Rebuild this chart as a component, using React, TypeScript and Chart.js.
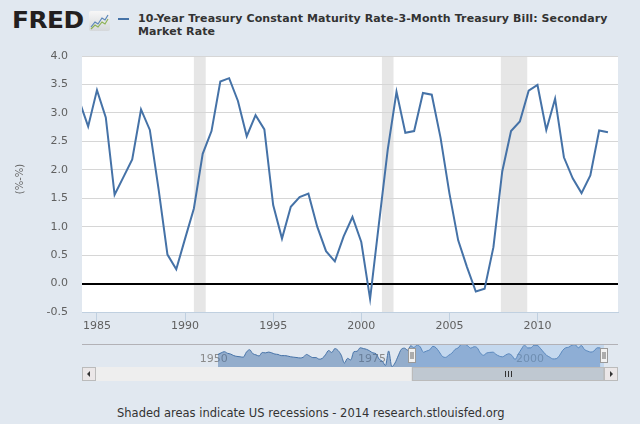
import React, { useEffect, useRef } from "react";
import { Chart, registerables } from "chart.js";

Chart.register(...registerables);

// ---- data (semi-annual observations) ----
const periods = [
  1984.0, 1984.5, 1985.0, 1985.5, 1986.0, 1986.5, 1987.0, 1987.5, 1988.0, 1988.5,
  1989.0, 1989.5, 1990.0, 1990.5, 1991.0, 1991.5, 1992.0, 1992.5, 1993.0, 1993.5,
  1994.0, 1994.5, 1995.0, 1995.5, 1996.0, 1996.5, 1997.0, 1997.5, 1998.0, 1998.5,
  1999.0, 1999.5, 2000.0, 2000.5, 2001.0, 2001.5, 2002.0, 2002.5, 2003.0, 2003.5,
  2004.0, 2004.5, 2005.0, 2005.5, 2006.0, 2006.5, 2007.0, 2007.5, 2008.0, 2008.5,
  2009.0, 2009.5, 2010.0, 2010.5, 2011.0, 2011.5, 2012.0, 2012.5, 2013.0, 2013.5,
  2014.0,
];
const spread = [
  3.21, 2.76, 3.40, 2.92, 1.56, 1.87, 2.18, 3.06, 2.70, 1.65,
  0.51, 0.25, 0.79, 1.32, 2.28, 2.68, 3.55, 3.61, 3.21, 2.59,
  2.96, 2.71, 1.38, 0.79, 1.35, 1.52, 1.58, 1.00, 0.57, 0.39,
  0.83, 1.17, 0.73, -0.27, 1.05, 2.35, 3.37, 2.65, 2.68, 3.35,
  3.32, 2.56, 1.59, 0.76, 0.29, -0.14, -0.09, 0.64, 1.97, 2.68,
  2.85, 3.39, 3.49, 2.70, 3.25, 2.22, 1.85, 1.59, 1.90, 2.69,
  2.66,
];

// navigator history before the main window
const navHistoryPeriods = [
  1953.5, 1954.0, 1954.5, 1955.0, 1955.5, 1956.0, 1956.5, 1957.0, 1957.5, 1958.0,
  1958.5, 1959.0, 1959.5, 1960.0, 1960.5, 1961.0, 1961.5, 1962.0, 1962.5, 1963.0,
  1963.5, 1964.0, 1964.5, 1965.0, 1965.5, 1966.0, 1966.5, 1967.0, 1967.5, 1968.0,
  1968.5, 1969.0, 1969.5, 1970.0, 1970.5, 1971.0, 1971.5, 1972.0, 1972.5, 1973.0,
  1973.5, 1974.0, 1974.5, 1975.0, 1975.5, 1976.0, 1976.5, 1977.0, 1977.5, 1978.0,
  1978.5, 1979.0, 1979.5, 1980.0, 1980.5, 1981.0, 1981.5, 1982.0, 1982.5, 1983.0,
  1983.5,
];
const navHistorySpread = [
  1.0, 1.4, 1.7, 1.3, 1.1, 0.7, 0.5, 0.4, 0.3, 1.6,
  2.2, 1.2, 0.9, 0.6, 1.5, 1.4, 1.6, 1.4, 1.1, 1.0,
  0.7, 0.7, 0.6, 0.4, 0.3, 0.2, 0.1, 0.3, 1.0, 0.6,
  0.2, 0.2, -0.2, 0.0, 0.9, 2.0, 1.5, 2.5, 2.0, 0.8,
  -1.2, 0.0, -0.4, 1.7, 1.8, 2.7, 2.5, 2.3, 1.9, 1.4,
  1.2, -0.2, -0.7, -1.8, 1.9, -2.1, -1.2, 0.6, 2.3, 2.6,
  2.1,
];

const recessionStarts = [1990.5, 2001.17, 2007.92];
const recessionEnds = [1991.17, 2001.83, 2009.42];
const xTickYears = [1985, 1990, 1995, 2000, 2005, 2010];
const yTickValues = [-0.5, 0, 0.5, 1, 1.5, 2, 2.5, 3, 3.5, 4];
const navTickYears = [1950, 1975, 2000];
const viewStart = 1984.15;
const viewEnd = 2014.57;
const navStart = 1934.2;

const titleLine1 = "10-Year Treasury Constant Maturity Rate-3-Month Treasury Bill: Secondary";
const titleLine2 = "Market Rate";
const yAxisTitle = "(%-%)";
const footerText = "Shaded areas indicate US recessions - 2014 research.stlouisfed.org";

const FONT = "'DejaVu Sans', Verdana, sans-serif";
const LINE = "#4572A7";
const BG = "#E1E8F0";

export default function App() {
  const mainRef = useRef<HTMLCanvasElement>(null);
  const navRef = useRef<HTMLCanvasElement>(null);

  useEffect(() => {
    const bands = {
      id: "bands",
      beforeDraw(chart: any) {
        const { ctx, chartArea: a, scales } = chart;
        const x = scales.x;
        ctx.save();
        ctx.fillStyle = "#FFFFFF";
        ctx.fillRect(a.left, a.top, a.right - a.left, a.bottom - a.top);
        ctx.fillStyle = "#E6E6E6";
        recessionStarts.forEach((s, i) => {
          const x0 = x.getPixelForValue(s);
          const x1 = x.getPixelForValue(recessionEnds[i]);
          ctx.fillRect(x0, a.top, x1 - x0, a.bottom - a.top);
        });
        ctx.restore();
      },
      afterDraw(chart: any) {
        const ctx = chart.ctx;
        ctx.save();
        ctx.translate(20, 179);
        ctx.rotate(-Math.PI / 2);
        ctx.font = `10px ${FONT}`;
        ctx.fillStyle = "#666666";
        ctx.textAlign = "center";
        ctx.textBaseline = "middle";
        ctx.fillText(yAxisTitle, 0, 0);
        ctx.restore();
      },
    };

    const main = new Chart(mainRef.current!, {
      type: "line",
      data: {
        datasets: [
          {
            data: periods.map((p, i) => ({ x: p, y: spread[i] })),
            borderColor: LINE,
            borderWidth: 2,
            pointRadius: 0,
            tension: 0,
            fill: false,
          },
        ],
      },
      options: {
        animation: false,
        responsive: false,
        maintainAspectRatio: false,
        layout: { padding: { left: 0, right: 22, top: 56, bottom: 0 } },
        plugins: { legend: { display: false }, tooltip: { enabled: false } },
        scales: {
          x: {
            type: "linear",
            min: viewStart,
            max: viewEnd,
            afterBuildTicks: (s: any) => {
              s.ticks = xTickYears.map((v) => ({ value: v }));
            },
            afterFit: (s: any) => {
              s.height = 28;
            },
            grid: { drawOnChartArea: false, drawTicks: true, tickLength: 10, tickColor: "#C0D0E0" },
            border: { color: "#C0D0E0", width: 1 },
            ticks: {
              color: "#606060",
              font: { family: FONT, size: 11 },
              padding: -2,
              maxRotation: 0,
              autoSkip: false,
              callback: (v: any) => String(v),
            },
          },
          y: {
            min: -0.5,
            max: 4.0,
            afterBuildTicks: (s: any) => {
              s.ticks = yTickValues.map((v) => ({ value: v }));
            },
            afterFit: (s: any) => {
              s.width = 82;
            },
            grid: {
              drawTicks: false,
              color: (c: any) =>
                c.tick && c.tick.value === 0 ? "#000000" : c.tick && c.tick.value === -0.5 ? "rgba(0,0,0,0)" : "#D6D6D6",
              lineWidth: (c: any) => (c.tick && c.tick.value === 0 ? 2 : 1),
            },
            border: { display: false },
            ticks: {
              color: "#606060",
              font: { family: FONT, size: 11 },
              padding: 14,
              autoSkip: false,
              callback: (v: any) => Number(v).toFixed(1),
            },
          },
        },
      },
      plugins: [bands],
    } as any);

    const navPeriods = navHistoryPeriods.concat(periods);
    const navValues = navHistorySpread.concat(spread);
    const navMin = Math.min(...navValues) - 0.1;
    const navMax = Math.max(...navValues) + 0.05;

    const navDecor = {
      id: "navDecor",
      beforeDatasetsDraw(chart: any) {
        const { ctx, chartArea: a, scales } = chart;
        const x = scales.x;
        ctx.save();
        ctx.font = `11px ${FONT}`;
        ctx.fillStyle = "#8A8A8A";
        ctx.textAlign = "left";
        ctx.textBaseline = "middle";
        navTickYears.forEach((yr) => {
          ctx.fillText(String(yr), x.getPixelForValue(yr) + 4, a.top + 15.5);
        });
        ctx.restore();
      },
      afterDraw(chart: any) {
        const { ctx, chartArea: a, scales } = chart;
        const x = scales.x;
        const left = 82;
        const right = 618;
        const s0 = x.getPixelForValue(viewStart);
        const s1 = x.getPixelForValue(viewEnd);
        ctx.save();
        // selection mask
        ctx.fillStyle = "rgba(128,179,236,0.3)";
        ctx.fillRect(s0, a.top, s1 - s0, a.bottom - a.top);
        // outline
        ctx.strokeStyle = "#B2B1B6";
        ctx.lineWidth = 1;
        ctx.beginPath();
        ctx.moveTo(left, Math.round(a.top) + 0.5);
        ctx.lineTo(right, Math.round(a.top) + 0.5);
        ctx.stroke();
        // scrollbar
        const sy = Math.round(a.bottom);
        const sh = 14;
        ctx.fillStyle = "#EEEEEE";
        ctx.fillRect(left, sy, right - left, sh);
        ctx.strokeStyle = "#EEEEEE";
        ctx.strokeRect(left + 0.5, sy + 0.5, right - left - 1, sh - 1);
        // thumb
        ctx.fillStyle = "#BFC8D1";
        ctx.fillRect(s0, sy, s1 - s0, sh);
        ctx.strokeStyle = "#BBBBBB";
        ctx.strokeRect(Math.round(s0) + 0.5, sy + 0.5, s1 - s0 - 1, sh - 1);
        const gc = Math.round((s0 + s1) / 2);
        ctx.strokeStyle = "#333333";
        [-3, 0, 3].forEach((d) => {
          ctx.beginPath();
          ctx.moveTo(gc + d + 0.5, sy + 4);
          ctx.lineTo(gc + d + 0.5, sy + 10);
          ctx.stroke();
        });
        // buttons
        [left, right - 14].forEach((bx, i) => {
          ctx.fillStyle = "#EBE7E8";
          ctx.fillRect(bx, sy, 14, sh);
          ctx.strokeStyle = "#BBBBBB";
          ctx.strokeRect(bx + 0.5, sy + 0.5, 13, sh - 1);
          ctx.fillStyle = "#333333";
          ctx.beginPath();
          const cx = bx + 7;
          const cy = sy + 7;
          if (i === 0) {
            ctx.moveTo(cx - 2, cy);
            ctx.lineTo(cx + 1, cy - 3);
            ctx.lineTo(cx + 1, cy + 3);
          } else {
            ctx.moveTo(cx + 2, cy);
            ctx.lineTo(cx - 1, cy - 3);
            ctx.lineTo(cx - 1, cy + 3);
          }
          ctx.closePath();
          ctx.fill();
        });
        // handles
        [s0, s1].forEach((hx) => {
          const cx = Math.round(hx);
          const top = Math.round(a.top) + 4;
          ctx.fillStyle = "#F2F2F2";
          ctx.fillRect(cx - 3.5, top, 7, 15);
          ctx.strokeStyle = "#999999";
          ctx.strokeRect(cx - 3.5, top + 0.5, 7, 14);
          ctx.strokeStyle = "#666666";
          [-1, 1].forEach((d) => {
            ctx.beginPath();
            ctx.moveTo(cx + d, top + 4);
            ctx.lineTo(cx + d, top + 11);
            ctx.stroke();
          });
        });
        ctx.restore();
      },
    };

    const nav = new Chart(navRef.current!, {
      type: "line",
      data: {
        datasets: [
          {
            data: navPeriods.map((p, i) => ({ x: p, y: navValues[i] })),
            borderColor: LINE,
            borderWidth: 1,
            backgroundColor: "rgba(69,114,167,0.5)",
            fill: "start",
            pointRadius: 0,
            tension: 0.4,
            cubicInterpolationMode: "monotone",
          },
        ],
      },
      options: {
        animation: false,
        responsive: false,
        maintainAspectRatio: false,
        layout: { padding: { left: 96, right: 36, top: 4, bottom: 17 } },
        plugins: { legend: { display: false }, tooltip: { enabled: false } },
        scales: {
          x: { type: "linear", display: false, min: navStart, max: viewEnd },
          y: { display: false, min: navMin, max: navMax },
        },
      },
      plugins: [navDecor],
    } as any);

    return () => {
      main.destroy();
      nav.destroy();
    };
  }, []);

  return (
    <div
      style={{
        position: "fixed",
        left: 0,
        top: 0,
        width: 640,
        height: 424,
        background: BG,
        overflow: "hidden",
      }}
    >
      {/* FRED logo */}
      <div
        style={{
          position: "absolute",
          left: 12,
          top: 9,
          font: `bold 23px ${FONT}`,
          lineHeight: "23px",
          color: "#231F20",
          transform: "scaleX(1.08)",
          transformOrigin: "left top",
          letterSpacing: "-0.5px",
          whiteSpace: "nowrap",
        }}
      >
        FRED
      </div>
      <svg
        style={{ position: "absolute", left: 89, top: 11 }}
        width={21}
        height={20}
        viewBox="0 0 21 20"
      >
        <defs>
          <linearGradient id="ig" x1="0" y1="0" x2="0" y2="1">
            <stop offset="0" stopColor="#F7F7F7" />
            <stop offset="1" stopColor="#D5D8DB" />
          </linearGradient>
        </defs>
        <rect x="0" y="0" width="21" height="20" rx="2" fill="url(#ig)" />
        <polyline points="2,16 6,11 9,13 13,7 16,9 19,4" fill="none" stroke="#5B86B8" strokeWidth="1.2" />
        <polyline points="2,18 6,14 9,16 13,11 16,13 19,8" fill="none" stroke="#8DB255" strokeWidth="1.2" />
      </svg>
      {/* legend */}
      <div
        style={{
          position: "absolute",
          left: 118,
          top: 18,
          width: 11,
          height: 2,
          background: LINE,
        }}
      />
      <div
        style={{
          position: "absolute",
          left: 138,
          top: 12,
          font: `bold 11px ${FONT}`,
          lineHeight: "13.3px",
          color: "#333333",
          letterSpacing: "0.1px",
          whiteSpace: "nowrap",
        }}
      >
        {titleLine1}
        <br />
        {titleLine2}
      </div>
      <canvas
        ref={mainRef}
        width={640}
        height={340}
        style={{ position: "absolute", left: 0, top: 0, width: 640, height: 340 }}
      />
      <canvas
        ref={navRef}
        width={640}
        height={44}
        style={{ position: "absolute", left: 0, top: 340, width: 640, height: 44 }}
      />
      <div
        style={{
          position: "absolute",
          left: 117,
          top: 407,
          font: `11.5px ${FONT}`,
          lineHeight: "13px",
          color: "#333333",
          whiteSpace: "nowrap",
        }}
      >
        {footerText}
      </div>
    </div>
  );
}
